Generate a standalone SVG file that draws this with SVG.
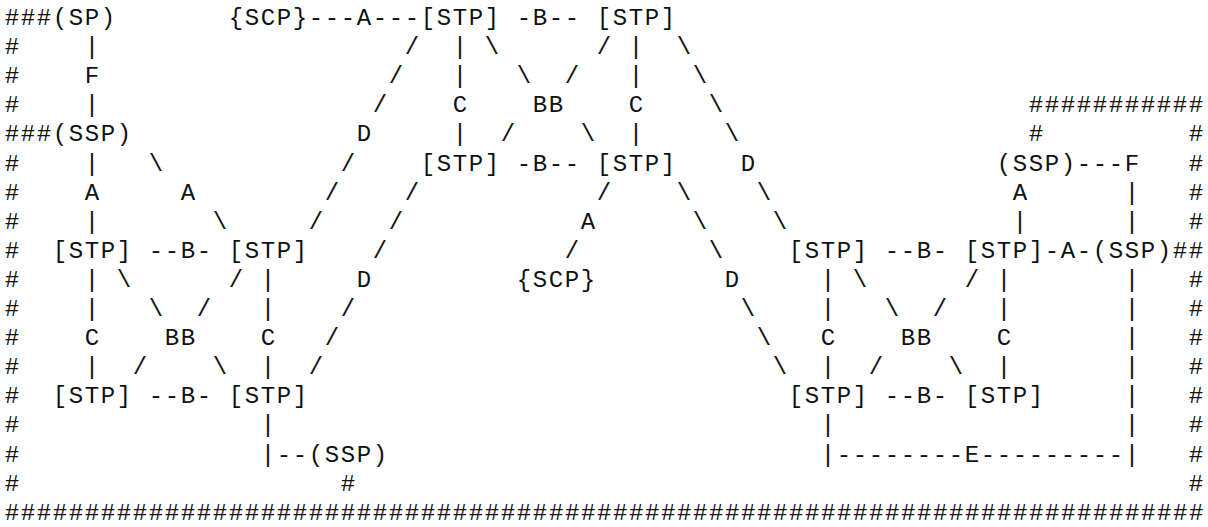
<svg xmlns="http://www.w3.org/2000/svg" width="1208" height="527" viewBox="0 0 1208 527">
<style>
text{font-family:"Liberation Mono","DejaVu Sans Mono",monospace;font-size:24px;letter-spacing:1.6px;fill:#111}
</style>
<rect width="1208" height="527" fill="#fff"/>
<g id="frame">
<text x="4.8" y="25">###</text>
<text x="4.8" y="54.1">#</text>
<text x="4.8" y="83.2">#</text>
<text x="4.8" y="112.3">#</text>
<text x="4.8" y="141.4">###</text>
<text x="4.8" y="170.5">#</text>
<text x="4.8" y="199.6">#</text>
<text x="4.8" y="228.7">#</text>
<text x="4.8" y="257.8">#</text>
<text x="4.8" y="286.9">#</text>
<text x="4.8" y="316">#</text>
<text x="4.8" y="345.1">#</text>
<text x="4.8" y="374.2">#</text>
<text x="4.8" y="403.3">#</text>
<text x="4.8" y="432.4">#</text>
<text x="4.8" y="461.5">#</text>
<text x="4.8" y="490.6">#</text>
<text x="4.8" y="519.7">###########################################################################</text>
<text x="1028.8" y="112.3">###########</text>
<text x="1028.8" y="141.4">#</text>
<text x="1188.8" y="141.4">#</text>
<text x="1188.8" y="170.5">#</text>
<text x="1188.8" y="199.6">#</text>
<text x="1188.8" y="228.7">#</text>
<text x="1172.8" y="257.8">##</text>
<text x="1188.8" y="286.9">#</text>
<text x="1188.8" y="316">#</text>
<text x="1188.8" y="345.1">#</text>
<text x="1188.8" y="374.2">#</text>
<text x="1188.8" y="403.3">#</text>
<text x="1188.8" y="432.4">#</text>
<text x="1188.8" y="461.5">#</text>
<text x="1188.8" y="490.6">#</text>
<text x="340.8" y="490.6">#</text>
</g>
<g id="connectors">
<text x="84.8" y="54.1">|</text>
<text x="84.8" y="83.2">F</text>
<text x="84.8" y="112.3">|</text>
<text x="308.8" y="25">---A---</text>
<text x="516.8" y="25">-B--</text>
<text x="404.8" y="54.1">/</text>
<text x="452.8" y="54.1">|</text>
<text x="484.8" y="54.1">\</text>
<text x="596.8" y="54.1">/</text>
<text x="628.8" y="54.1">|</text>
<text x="676.8" y="54.1">\</text>
<text x="388.8" y="83.2">/</text>
<text x="452.8" y="83.2">|</text>
<text x="516.8" y="83.2">\</text>
<text x="564.8" y="83.2">/</text>
<text x="628.8" y="83.2">|</text>
<text x="692.8" y="83.2">\</text>
<text x="372.8" y="112.3">/</text>
<text x="452.8" y="112.3">C</text>
<text x="532.8" y="112.3">BB</text>
<text x="628.8" y="112.3">C</text>
<text x="708.8" y="112.3">\</text>
<text x="356.8" y="141.4">D</text>
<text x="452.8" y="141.4">|</text>
<text x="500.8" y="141.4">/</text>
<text x="580.8" y="141.4">\</text>
<text x="628.8" y="141.4">|</text>
<text x="724.8" y="141.4">\</text>
<text x="84.8" y="170.5">|</text>
<text x="148.8" y="170.5">\</text>
<text x="340.8" y="170.5">/</text>
<text x="516.8" y="170.5">-B--</text>
<text x="740.8" y="170.5">D</text>
<text x="1076.8" y="170.5">---F</text>
<text x="84.8" y="199.6">A</text>
<text x="180.8" y="199.6">A</text>
<text x="324.8" y="199.6">/</text>
<text x="404.8" y="199.6">/</text>
<text x="596.8" y="199.6">/</text>
<text x="676.8" y="199.6">\</text>
<text x="756.8" y="199.6">\</text>
<text x="1012.8" y="199.6">A</text>
<text x="1124.8" y="199.6">|</text>
<text x="84.8" y="228.7">|</text>
<text x="212.8" y="228.7">\</text>
<text x="308.8" y="228.7">/</text>
<text x="388.8" y="228.7">/</text>
<text x="580.8" y="228.7">A</text>
<text x="692.8" y="228.7">\</text>
<text x="772.8" y="228.7">\</text>
<text x="1012.8" y="228.7">|</text>
<text x="1124.8" y="228.7">|</text>
<text x="148.8" y="257.8">--B-</text>
<text x="372.8" y="257.8">/</text>
<text x="564.8" y="257.8">/</text>
<text x="708.8" y="257.8">\</text>
<text x="884.8" y="257.8">--B-</text>
<text x="1044.8" y="257.8">-A-</text>
<text x="84.8" y="286.9">|</text>
<text x="116.8" y="286.9">\</text>
<text x="228.8" y="286.9">/</text>
<text x="260.8" y="286.9">|</text>
<text x="356.8" y="286.9">D</text>
<text x="724.8" y="286.9">D</text>
<text x="820.8" y="286.9">|</text>
<text x="852.8" y="286.9">\</text>
<text x="964.8" y="286.9">/</text>
<text x="996.8" y="286.9">|</text>
<text x="1124.8" y="286.9">|</text>
<text x="84.8" y="316">|</text>
<text x="148.8" y="316">\</text>
<text x="196.8" y="316">/</text>
<text x="260.8" y="316">|</text>
<text x="340.8" y="316">/</text>
<text x="740.8" y="316">\</text>
<text x="820.8" y="316">|</text>
<text x="884.8" y="316">\</text>
<text x="932.8" y="316">/</text>
<text x="996.8" y="316">|</text>
<text x="1124.8" y="316">|</text>
<text x="84.8" y="345.1">C</text>
<text x="164.8" y="345.1">BB</text>
<text x="260.8" y="345.1">C</text>
<text x="324.8" y="345.1">/</text>
<text x="756.8" y="345.1">\</text>
<text x="820.8" y="345.1">C</text>
<text x="900.8" y="345.1">BB</text>
<text x="996.8" y="345.1">C</text>
<text x="1124.8" y="345.1">|</text>
<text x="84.8" y="374.2">|</text>
<text x="132.8" y="374.2">/</text>
<text x="212.8" y="374.2">\</text>
<text x="260.8" y="374.2">|</text>
<text x="308.8" y="374.2">/</text>
<text x="772.8" y="374.2">\</text>
<text x="820.8" y="374.2">|</text>
<text x="868.8" y="374.2">/</text>
<text x="948.8" y="374.2">\</text>
<text x="996.8" y="374.2">|</text>
<text x="1124.8" y="374.2">|</text>
<text x="148.8" y="403.3">--B-</text>
<text x="884.8" y="403.3">--B-</text>
<text x="1124.8" y="403.3">|</text>
<text x="260.8" y="432.4">|</text>
<text x="820.8" y="432.4">|</text>
<text x="1124.8" y="432.4">|</text>
<text x="260.8" y="461.5">|--</text>
<text x="820.8" y="461.5">|--------E---------|</text>
</g>
<g id="node-sp"><text x="52.8" y="25">(SP)</text></g>
<g id="node-ssp-1"><text x="52.8" y="141.4">(SSP)</text></g>
<g id="node-scp-1"><text x="228.8" y="25">{SCP}</text></g>
<g id="node-stp-1"><text x="420.8" y="25">[STP]</text></g>
<g id="node-stp-2"><text x="596.8" y="25">[STP]</text></g>
<g id="node-stp-3"><text x="420.8" y="170.5">[STP]</text></g>
<g id="node-stp-4"><text x="596.8" y="170.5">[STP]</text></g>
<g id="node-ssp-2"><text x="996.8" y="170.5">(SSP)</text></g>
<g id="node-stp-5"><text x="52.8" y="257.8">[STP]</text></g>
<g id="node-stp-6"><text x="228.8" y="257.8">[STP]</text></g>
<g id="node-stp-7"><text x="788.8" y="257.8">[STP]</text></g>
<g id="node-stp-8"><text x="964.8" y="257.8">[STP]</text></g>
<g id="node-ssp-3"><text x="1092.8" y="257.8">(SSP)</text></g>
<g id="node-scp-2"><text x="516.8" y="286.9">{SCP}</text></g>
<g id="node-stp-9"><text x="52.8" y="403.3">[STP]</text></g>
<g id="node-stp-10"><text x="228.8" y="403.3">[STP]</text></g>
<g id="node-stp-11"><text x="788.8" y="403.3">[STP]</text></g>
<g id="node-stp-12"><text x="964.8" y="403.3">[STP]</text></g>
<g id="node-ssp-4"><text x="308.8" y="461.5">(SSP)</text></g>
</svg>
